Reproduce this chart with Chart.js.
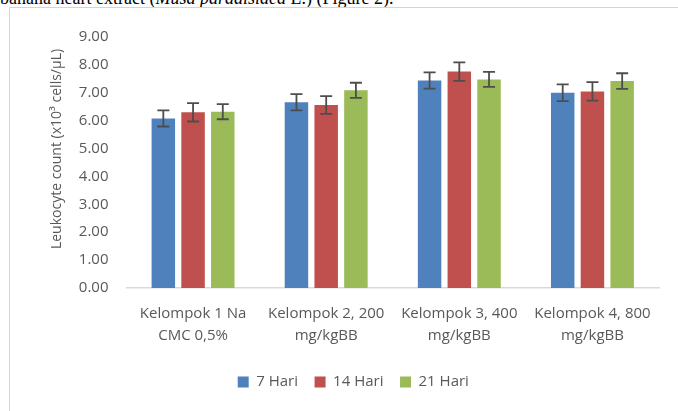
<!DOCTYPE html>
<html>
<head>
<meta charset="utf-8">
<script src="https://cdn.jsdelivr.net/npm/chart.js@4"></script>
<style>
  body { margin: 0; background: #fff; overflow: hidden; }
  #wrap { position: relative; width: 678px; height: 411px; }
  #caption { position: absolute; left: 0; top: -11px; font: 18px/18px "Liberation Serif", serif; color: #000; white-space: nowrap; }
  #frame { position: absolute; left: 9px; top: 7px; width: 700px; height: 420px; border: 1px solid #d4d4d4; }
  canvas { position: absolute; left: 0; top: 0; }
</style>
</head>
<body>
<div id="wrap">
  <div id="caption">banana heart extract (<i>Musa paradisiaca</i> L.) (Figure 2).</div>
  <div id="frame"></div>
  <canvas id="chart" width="678" height="411"></canvas>
</div>
<script>
// data
var groups = [
    ['Kelompok 1 Na', 'CMC 0,5%'],
    ['Kelompok 2, 200', 'mg/kgBB'],
    ['Kelompok 3, 400', 'mg/kgBB'],
    ['Kelompok 4, 800', 'mg/kgBB']
];
var seriesNames = ['7 Hari', '14 Hari', '21 Hari'];
var hari7 = [6.08, 6.66, 7.44, 7.00];
var hari14 = [6.30, 6.56, 7.76, 7.05];
var hari21 = [6.32, 7.09, 7.48, 7.42];
var err7 = [0.29, 0.29, 0.29, 0.30];
var err14 = [0.33, 0.32, 0.33, 0.33];
var err21 = [0.27, 0.27, 0.27, 0.28];
var yTicks = [0, 1, 2, 3, 4, 5, 6, 7, 8, 9];
var yTitle = 'Leukocyte count (x10³ cells/µL)';

var textColor = '#595959';
var font = { family: '"Open Sans", sans-serif', size: 15 };

// error bars drawn over the bars
var errorBars = {
    id: 'errorBars',
    afterDatasetsDraw: function (chart) {
        var ctx = chart.ctx;
        var y = chart.scales.y;
        ctx.save();
        ctx.strokeStyle = '#4d4d4d';
        ctx.lineWidth = 1.8;
        chart.data.datasets.forEach(function (ds, i) {
            var meta = chart.getDatasetMeta(i);
            meta.data.forEach(function (bar, j) {
                var top = y.getPixelForValue(ds.data[j] + ds.errors[j]);
                var bot = y.getPixelForValue(ds.data[j] - ds.errors[j]);
                ctx.beginPath();
                ctx.moveTo(bar.x, top); ctx.lineTo(bar.x, bot);
                ctx.moveTo(bar.x - 6, top); ctx.lineTo(bar.x + 6, top);
                ctx.moveTo(bar.x - 6, bot); ctx.lineTo(bar.x + 6, bot);
                ctx.stroke();
            });
        });
        ctx.restore();
    }
};

// y axis title placed like the original
var axisTitle = {
    id: 'axisTitle',
    afterDraw: function (chart) {
        var ctx = chart.ctx;
        ctx.save();
        ctx.translate(57, 149);
        ctx.rotate(-Math.PI / 2);
        ctx.font = '14px "Open Sans", sans-serif';
        ctx.fillStyle = textColor;
        ctx.textAlign = 'center';
        ctx.textBaseline = 'middle';
        ctx.fillText(yTitle, 0, 0);
        ctx.restore();
    }
};

var ctx = document.getElementById('chart').getContext('2d');
var chart = new Chart(ctx, {
    type: 'bar',
    data: {
        labels: groups,
        datasets: [
            { label: seriesNames[0], data: hari7, errors: err7, backgroundColor: '#4F81BD' },
            { label: seriesNames[1], data: hari14, errors: err14, backgroundColor: '#C0504D' },
            { label: seriesNames[2], data: hari21, errors: err21, backgroundColor: '#9BBB59' }
        ]
    },
    options: {
        responsive: false,
        animation: false,
        categoryPercentage: 0.67,
        barPercentage: 0.79,
        layout: { padding: { left: 28.6, right: 0, top: 37, bottom: 11.5 } },
        plugins: {
            tooltip: { enabled: false },
            legend: {
                position: 'bottom',
                labels: { boxWidth: 11, boxHeight: 11, padding: 16.6, color: textColor, font: font }
            }
        },
        scales: {
            x: {
                grid: { display: false, drawTicks: false },
                border: { display: true, color: '#d9d9d9', width: 1.5 },
                ticks: { color: textColor, font: { family: font.family, size: 15, lineHeight: 1.5 }, padding: 14.4, maxRotation: 0, autoSkip: false },
                afterFit: function (s) { s.height = 69.9; }
            },
            y: {
                min: 0,
                max: 9,
                grid: { display: false, drawTicks: false },
                border: { display: false },
                afterBuildTicks: function (s) { s.ticks = yTicks.map(function (v) { return { value: v }; }); },
                ticks: {
                    color: textColor, font: font, padding: 18,
                    callback: function (v) { return v.toFixed(2); }
                },
                afterFit: function (s) { s.width = 97.9; }
            },
            // empty right-hand gutter, keeps the plot off the right edge
            yR: {
                position: 'right',
                grid: { display: false, drawTicks: false },
                border: { display: false },
                ticks: { display: false },
                afterFit: function (s) { s.width = 19; }
            }
        }
    },
    plugins: [errorBars, axisTitle]
});
</script>
</body>
</html>
